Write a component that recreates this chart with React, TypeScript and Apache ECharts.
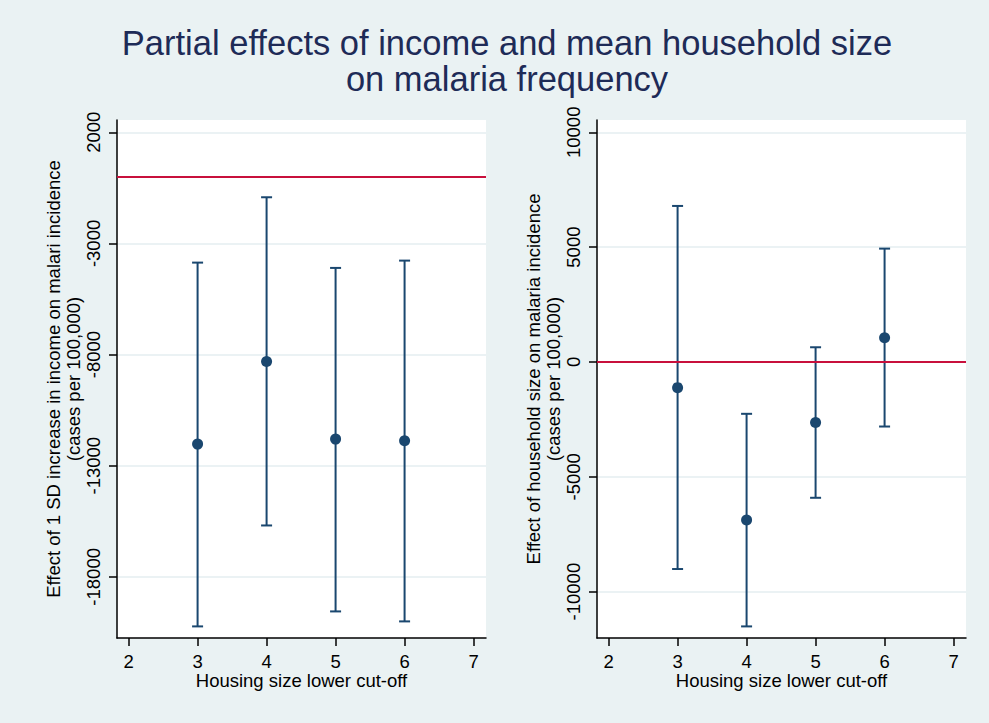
import React, { useEffect, useRef } from "react";
import * as echarts from "echarts";

const cutoffs = [3, 4, 5, 6];
const incomeEst = [-12029, -8315, -11804, -11880];
const incomeLo = [-20230, -15689, -19556, -20005];
const incomeHi = [-3863, -923, -4102, -3773];
const hhEst = [-1118, -6884, -2637, 1057];
const hhLo = [-9016, -11514, -5914, -2811];
const hhHi = [6793, -2258, 640, 4935];

const xTicks = [2, 3, 4, 5, 6, 7];
const incomeTicks = [2000, -3000, -8000, -13000, -18000];
const hhTicks = [10000, 5000, 0, -5000, -10000];

const titleLines = ["Partial effects of income and mean household size", "on malaria frequency"];
const xName = "Housing size lower cut-off";
const incomeName = "Effect of 1 SD increase in income on malari incidence\n(cases per 100,000)";
const hhName = "Effect of household size on malaria incidence\n(cases per 100,000)";

const NAVY = "#1a476f";
const RED = "#c8103c";
const BG = "#eaf2f3";
const GRID = "#e4eef0";
const FONT = "Liberation Sans";

function errRender(params: any, api: any) {
  const x = api.value(0);
  const lo = api.coord([x, api.value(1)]);
  const hi = api.coord([x, api.value(2)]);
  const w = 5.5;
  const style = { stroke: NAVY, lineWidth: 2 };
  return {
    type: "group",
    children: [
      { type: "line", shape: { x1: lo[0], y1: lo[1], x2: hi[0], y2: hi[1] }, style },
      { type: "line", shape: { x1: lo[0] - w, y1: lo[1], x2: lo[0] + w, y2: lo[1] }, style },
      { type: "line", shape: { x1: hi[0] - w, y1: hi[1], x2: hi[0] + w, y2: hi[1] }, style },
    ],
  };
}

export default function App() {
  const ref = useRef<HTMLDivElement>(null);
  useEffect(() => {
    if (!ref.current) return;
    const chart = echarts.init(ref.current, undefined, { renderer: "svg" });
    const axisText = { fontFamily: FONT, fontSize: 18.5, color: "#000" };
    const plain = (v: number) => String(v);
    const mkX = (gi: number) => ({
      type: "value",
      gridIndex: gi,
      min: 1.832,
      max: 7.18,
      name: xName,
      nameLocation: "middle",
      nameGap: 34,
      nameMoveOverlap: false,
      nameTextStyle: { ...axisText, lineHeight: 16 },
      axisLine: { show: true, onZero: false, lineStyle: { color: "#000", width: 1.5 } },
      axisTick: { show: true, length: 8, customValues: xTicks, lineStyle: { color: "#000", width: 1.5 } },
      axisLabel: { ...axisText, lineHeight: 16, margin: 15, customValues: xTicks, formatter: plain },
      splitLine: { show: false },
    });
    const mkY = (gi: number, min: number, max: number, ticks: number[], name: string, gap: number) => ({
      type: "value",
      gridIndex: gi,
      min,
      max,
      name,
      nameLocation: "middle",
      nameGap: gap,
      nameTextStyle: { ...axisText, lineHeight: 20 },
      axisLine: { show: true, onZero: false, lineStyle: { color: "#000", width: 1.5 } },
      axisTick: { show: true, length: 8, customValues: ticks, lineStyle: { color: "#000", width: 1.5 } },
      axisLabel: { ...axisText, margin: 14, rotate: 90, customValues: ticks, formatter: plain },
      splitLine: { show: true, customValues: ticks, lineStyle: { color: GRID, width: 1.5 } },
    });
    const rows = (lo: number[], hi: number[]) => cutoffs.map((c, i) => [c, lo[i], hi[i]]);
    const pts = (est: number[]) => cutoffs.map((c, i) => [c, est[i]]);
    const refLine = {
      silent: true,
      symbol: ["none", "none"],
      label: { show: false },
      lineStyle: { color: RED, width: 2, type: "solid" },
      data: [{ yAxis: 0 }],
    };
    const titleStyle = { fontFamily: FONT, fontSize: 34.5, fontWeight: "normal", color: "#1e2b57", lineHeight: 34.5 };
    chart.setOption({
      animation: false,
      backgroundColor: BG,
      title: titleLines.map((t, i) => ({
        text: t,
        left: 507,
        top: 26 + i * 36,
        textAlign: "center",
        padding: 0,
        textStyle: titleStyle,
      })),
      grid: [
        { left: 117, top: 120, width: 369, height: 518, show: true, backgroundColor: "#fff", borderWidth: 0 },
        { left: 597, top: 120, width: 369, height: 518, show: true, backgroundColor: "#fff", borderWidth: 0 },
      ],
      xAxis: [mkX(0), mkX(1)],
      yAxis: [
        mkY(0, -20752, 2553, incomeTicks, incomeName, 33),
        mkY(1, -12019, 10535, hhTicks, hhName, 33),
      ],
      series: [
        {
          type: "custom",
          xAxisIndex: 0,
          yAxisIndex: 0,
          renderItem: errRender,
          data: rows(incomeLo, incomeHi),
          encode: { x: 0, y: [1, 2] },
          z: 3,
        },
        {
          type: "scatter",
          xAxisIndex: 0,
          yAxisIndex: 0,
          data: pts(incomeEst),
          symbolSize: 11,
          itemStyle: { color: NAVY, opacity: 1 },
          markLine: refLine,
          z: 4,
        },
        {
          type: "custom",
          xAxisIndex: 1,
          yAxisIndex: 1,
          renderItem: errRender,
          data: rows(hhLo, hhHi),
          encode: { x: 0, y: [1, 2] },
          z: 3,
        },
        {
          type: "scatter",
          xAxisIndex: 1,
          yAxisIndex: 1,
          data: pts(hhEst),
          symbolSize: 11,
          itemStyle: { color: NAVY, opacity: 1 },
          markLine: refLine,
          z: 4,
        },
      ],
    });
    return () => chart.dispose();
  }, []);
  return <div ref={ref} style={{ position: "fixed", left: 0, top: 0, width: 989, height: 723 }} />;
}
